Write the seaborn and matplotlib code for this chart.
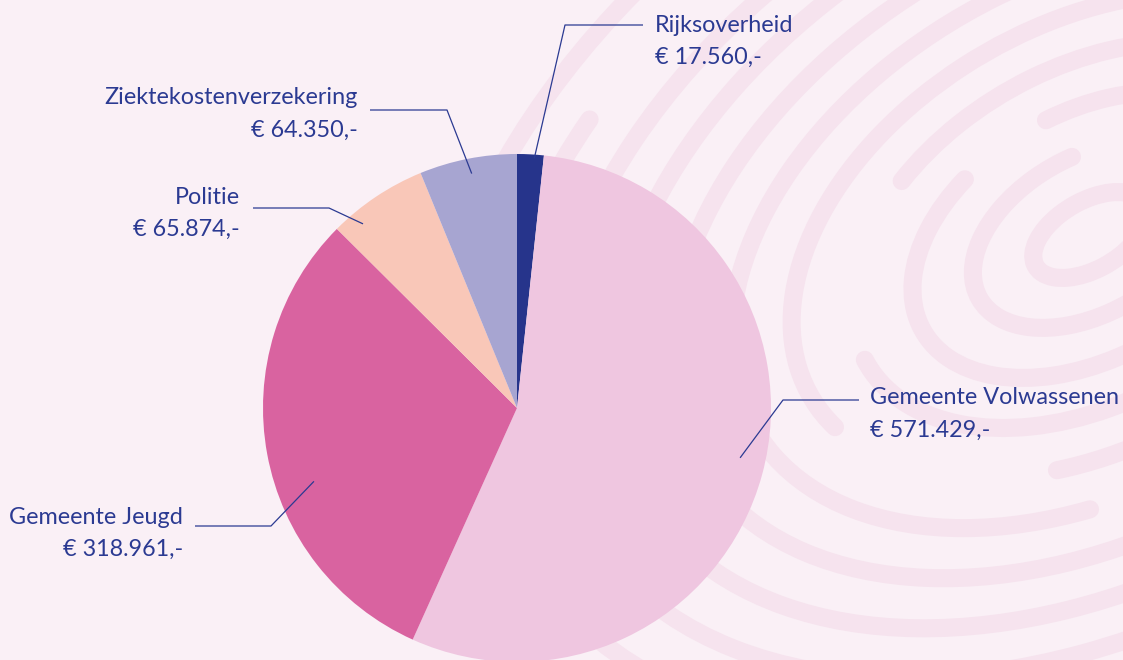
import numpy as np
import matplotlib
matplotlib.use("Agg")
import matplotlib.pyplot as plt
from matplotlib.patches import Arc
import seaborn as sns

# Data (clockwise from 12 o'clock)
categories = ["Rijksoverheid", "Gemeente Volwassenen", "Gemeente Jeugd",
              "Politie", "Ziektekostenverzekering"]
amounts = [17560, 571429, 318961, 65874, 64350]
colors = ["#26348B", "#EFC6E0", "#D963A0", "#F9C7B8", "#A7A5D1"]

# Label layout in pixel coordinates (y measured from top of the image)
label_pos = [(655, 25, "left"), (870, 398, "left"), (183, 517, "right"),
             (240, 197, "right"), (358, 98, "right")]
elbows = [((643, 25), (565, 25)), ((859, 400), (783, 400)),
          ((195, 526), (271, 526)), ((253, 208), (329, 208)),
          ((370, 110), (447, 110))]
anchor_frac = [(0.65, 0.985), (0.487, 0.90), (0.415, 0.85),
               (0.23, 0.945), (0.51, 0.94)]

W, H = 1123, 660
BG = "#FAF0F6"
TXT = "#2B3A92"
CX, CY, R = 517, H - 408, 254

sns.set_theme(style="white")
plt.rcParams["font.family"] = ["Lato", "DejaVu Sans"]

fig = plt.figure(figsize=(W / 100, H / 100), dpi=100, facecolor=BG)
ax = fig.add_axes([0, 0, 1, 1])
ax.set_facecolor(BG)

# faint fingerprint decoration on the right
fc, fy = 1090, H - 235
for k in range(11):
    w = 2 * (50 + 52 * k)
    h = 2 * (34 + 44 * k)
    gap = (k * 53) % 360
    ax.add_patch(Arc((fc, fy), w * 1.25, h, angle=30, theta1=gap + 20,
                     theta2=gap + 335, color="#F6E3EE", lw=13,
                     capstyle="round", zorder=0))

wedges, _ = ax.pie(amounts, colors=colors, startangle=90, counterclock=False,
                   radius=R, center=(CX, CY),
                   wedgeprops=dict(linewidth=0, zorder=2))

total = sum(amounts)
start = 90.0
for i, (name, val) in enumerate(zip(categories, amounts)):
    span = 360.0 * val / total
    f, rf = anchor_frac[i]
    ang = np.deg2rad(start - f * span)
    ax_x = CX + rf * R * np.cos(ang)
    ax_y = CY + rf * R * np.sin(ang)
    (x1, y1), (x0, y0) = elbows[i]
    ax.plot([ax_x, x0, x1], [ax_y, H - y0, H - y1], color=TXT, lw=0.9,
            zorder=3, solid_capstyle="butt")
    tx, ty, ha = label_pos[i]
    money = "€ " + f"{val:,}".replace(",", ".") + ",-"
    ax.text(tx, H - ty, name, ha=ha, va="center", fontsize=16.8, color=TXT)
    ax.text(tx, H - ty - 32, money, ha=ha, va="center", fontsize=16.8,
            color=TXT)
    start -= span

ax.set_xlim(0, W)
ax.set_ylim(0, H)
ax.set_aspect("equal")
ax.axis("off")

fig.savefig("out.png", dpi=100, facecolor=BG)
